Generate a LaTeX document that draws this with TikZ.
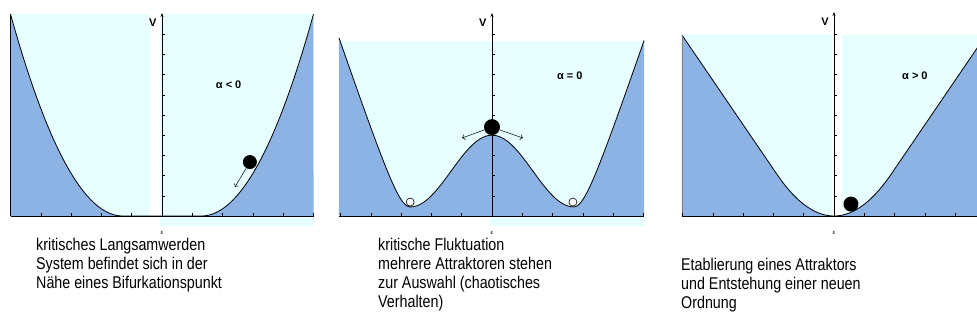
\documentclass[tikz,border=0pt]{standalone}
\usepackage{fontspec}
\setmainfont{Liberation Sans}
\newfontfamily\narrowfont[FakeStretch=0.84]{Liberation Sans}
\usetikzlibrary{arrows.meta}
\definecolor{lightcyan}{RGB}{232,255,255}
\definecolor{wellblue}{RGB}{141,178,228}

\begin{document}
\begin{tikzpicture}[
    x=1pt, y=-1pt,
    lightbg/.style={fill=lightcyan},
    well/.style={fill=wellblue},
    curve/.style={draw=black, line width=0.8pt},
    axis/.style={draw=black, line width=0.6pt},
    tick/.style={draw=black, line width=0.5pt},
    ball/.style={circle, fill=black, inner sep=0pt, minimum size=14pt},
    marble/.style={circle, draw=black, fill=white, inner sep=0pt, minimum size=8pt, line width=0.6pt},
    push/.style={->, line width=0.5pt},
    lab/.style={font=\bfseries\fontsize{11}{12}\selectfont},
    epsl/.style={font=\fontsize{6}{7}\selectfont},
    caption/.style={align=left, anchor=north west, inner sep=0pt, font=\narrowfont\fontsize{17}{19}\selectfont},
    declare function={
        vA(\x)=0.73*max(abs(\x)-1.3,0)*max(abs(\x)-1.3,0);
        vB(\x)=(abs(\x)>2.7) ? (0.45+4.4*(sqrt((abs(\x)-2.7)*(abs(\x)-2.7)+0.25)-0.5)) : (0.45+1.775*(1+cos(66.667*\x)));
        vC(\x)=(abs(\x)<1.89) ? (0.582*\x*\x) : (2.2*abs(\x)-2.08);
    }
]
    \useasboundingbox (0,0) rectangle (977,332);
    \fill[white] (0,0) rectangle (977,332);

    \begin{scope}[shift={(162pt,-216pt)}, x=30.3pt, y=20.2pt]
        \fill[lightbg] (-5,0) rectangle (-0.4,10);
        \fill[lightbg] (-0.07,-0.5) rectangle (5,10);
        \fill[well] (-5,0) -- plot[domain=-5:5, samples=121] (\x,{vA(\x)}) -- (5,0) -- cycle;
        \draw[curve] plot[domain=-5:5, samples=121] (\x,{vA(\x)});
        \draw[axis] (-5,0) -- (-5,10);
        \draw[axis] (-5,0) -- (5,0);
        \foreach \i in {-5,...,5} \draw[tick] (\i,0) -- (\i,0.15);
        \draw[axis, -{Stealth[length=4pt, width=3pt]}] (0,0) -- (0,10.05);
        \foreach \j in {1,...,9} \draw[tick] (0,\j) -- (0.1,\j);
        \node[lab] (vlabA) at (-0.3,9.55) {V};
        \node[lab] (alphaA) at (2.2,6.5) {α < 0};
        \node[epsl] (epsA) at (0,-0.85) {ε};
        \node[ball] (ballA) at (2.9,2.67) {};
        \coordinate (pushA) at (2.41,1.44);
        \draw[push] (ballA) -- (pushA);
    \end{scope}

    \begin{scope}[shift={(492pt,-216pt)}, x=30.3pt, y=20.2pt]
        \fill[lightbg] (-5.05,0) rectangle (5.02,8.66);
        \fill[lightbg] (-0.07,-0.5) rectangle (5.02,0);
        \fill[well] (-5.05,0) -- plot[domain=-5.05:5.02, samples=161] (\x,{vB(\x)}) -- (5.02,0) -- cycle;
        \draw[curve] plot[domain=-5.05:5.02, samples=161] (\x,{vB(\x)});
        \draw[axis] (-5.05,0) -- (5.02,0);
        \foreach \i in {-5,...,5} \draw[tick] (\i,0) -- (\i,0.15);
        \draw[axis, -{Stealth[length=4pt, width=3pt]}] (0,0) -- (0,10.05);
        \foreach \j in {1,...,9} \draw[tick] (0,\j) -- (0.1,\j);
        \node[lab] (vlabB) at (-0.3,9.55) {V};
        \node[lab] (alphaB) at (2.57,6.93) {α = 0};
        \node[epsl] (epsB) at (0,-0.85) {ε};
        \node[ball, minimum size=16pt] (ballB) at (0,4.4) {};
        \coordinate (pushBl) at (-0.99,3.86);
        \coordinate (pushBr) at (1.02,3.86);
        \draw[push] (ballB) -- (pushBl);
        \draw[push] (ballB) -- (pushBr);
        \node[marble] (leftmin) at (-2.7,0.69) {};
        \node[marble] (rightmin) at (2.67,0.69) {};
    \end{scope}

    \begin{scope}[shift={(834pt,-216pt)}, x=30.3pt, y=20.2pt]
        \fill[lightbg] (-5.02,0) rectangle (-0.07,9.0);
        \fill[lightbg] (0.26,0) rectangle (4.8,8.96);
        \fill[well] (-5.02,0) -- plot[domain=-5.02:4.8, samples=141] (\x,{vC(\x)}) -- (4.8,0) -- cycle;
        \draw[curve] plot[domain=-5.02:4.8, samples=141] (\x,{vC(\x)});
        \draw[axis, draw=gray] (-5.02,0) -- (-5.02,8.96);
        \draw[axis] (-5.02,0) -- (4.8,0);
        \foreach \i in {-5,...,4} \draw[tick] (\i,0) -- (\i,0.15);
        \draw[axis, -{Stealth[length=4pt, width=3pt]}] (0,0) -- (0,10.1);
        \foreach \j in {1,...,9} \draw[tick] (0,\j) -- (0.1,\j);
        \node[lab] (vlabC) at (-0.3,9.6) {V};
        \node[lab] (alphaC) at (2.67,6.93) {α > 0};
        \node[epsl] (epsC) at (0,-0.85) {ε};
        \node[ball, minimum size=15pt] (ballC) at (0.56,0.59) {};
        \coordinate (pushC) at (0.2,0.18);
        \draw[push, white] (ballC) -- (pushC);
    \end{scope}

    \node[caption] (capA) at (36,238) {kritisches Langsamwerden\\System befindet sich in der\\Nähe eines Bifurkationspunkt};
    \node[caption] (capB) at (378,238) {kritische Fluktuation\\mehrere Attraktoren stehen\\zur Auswahl (chaotisches\\Verhalten)};
    \node[caption] (capC) at (681,258) {Etablierung eines Attraktors\\und Entstehung einer neuen\\Ordnung};
\end{tikzpicture}
\end{document}
